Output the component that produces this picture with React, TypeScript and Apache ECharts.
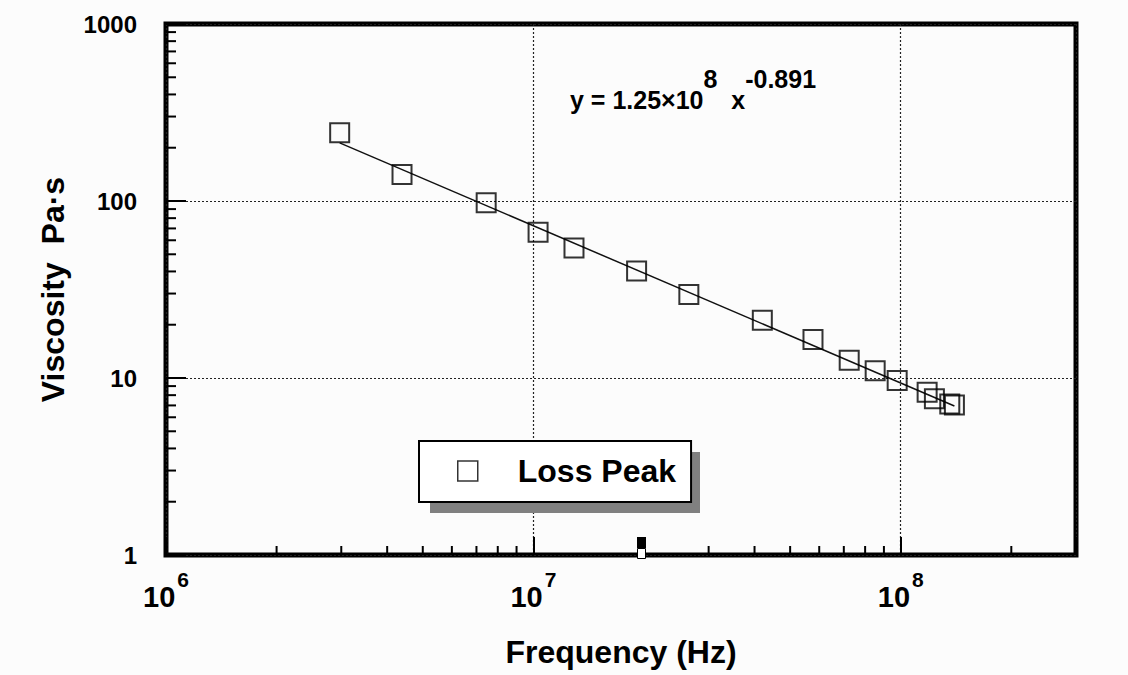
import React, { useEffect, useRef } from "react";
import * as echarts from "echarts";

// Measured data (Loss Peak): frequency (Hz) vs viscosity (Pa·s)
const freqHz = [2.97e6, 4.39e6, 7.44e6, 1.03e7, 1.29e7, 1.91e7, 2.65e7, 4.2e7, 5.77e7, 7.24e7, 8.52e7, 9.78e7, 1.18e8, 1.235e8, 1.36e8, 1.4e8];
const viscosity = [243, 141, 97.6, 66.6, 54.3, 40.2, 29.6, 21.2, 16.5, 12.6, 11.0, 9.69, 8.32, 7.64, 7.12, 7.03];

// Power-law fit line end points
const fitFreq = [2.97e6, 1.4e8];
const fitVisc = [213, 6.95];

// Minor tick positions
const minorTicksX = [2e6, 3e6, 4e6, 5e6, 6e6, 7e6, 8e6, 9e6, 2e7, 3e7, 4e7, 5e7, 6e7, 7e7, 8e7, 9e7, 2e8];
const minorTicksY = [2, 3, 4, 5, 6, 7, 8, 9, 20, 30, 40, 50, 60, 70, 80, 90, 200, 300, 400, 500, 600, 700, 800, 900];

const xMin = 1e6;
const xMax = 3e8;
const yMin = 1;
const yMax = 1000;

const seriesName = "Loss Peak";
const FONT = "'Liberation Sans', Arial, Helvetica, sans-serif";

export default function App() {
  const ref = useRef<HTMLDivElement>(null);

  useEffect(() => {
    if (!ref.current) return;
    const chart = echarts.init(ref.current, null, { renderer: "svg" });

    const isDecade = (v: number) => {
      const e = Math.log10(v);
      return Math.abs(e - Math.round(e)) < 1e-6;
    };

    const option: any = {
      animation: false,
      backgroundColor: "#fcfcfc",
      textStyle: { fontFamily: FONT },
      grid: {
        left: 166,
        top: 24,
        right: 52,
        bottom: 120,
        show: true,
        borderColor: "#000",
        borderWidth: 5,
        backgroundColor: "transparent",
      },
      xAxis: {
        type: "log",
        logBase: 10,
        min: xMin,
        max: xMax,
        name: "Frequency (Hz)",
        nameLocation: "middle",
        nameGap: 81,
        nameTextStyle: { fontSize: 32, fontWeight: "bold", color: "#000", fontFamily: FONT },
        axisLine: { show: false },
        axisTick: { show: true, inside: true, length: 18, lineStyle: { color: "#000", width: 2 } },
        splitLine: { show: true, lineStyle: { color: "#222", type: [2, 2], width: 1.2 } },
        axisLabel: {
          margin: 27,
          color: "#000",
          formatter: (v: number) => (isDecade(v) ? `{b|10}{s|${Math.round(Math.log10(v))}}` : ""),
          rich: {
            b: { fontSize: 29, fontWeight: "bold", color: "#000", lineHeight: 29, verticalAlign: "bottom", fontFamily: FONT },
            s: { fontSize: 21, fontWeight: "bold", color: "#000", lineHeight: 21, verticalAlign: "bottom", padding: [0, 0, 21, 2], fontFamily: FONT },
          },
        },
      },
      yAxis: {
        type: "log",
        logBase: 10,
        min: yMin,
        max: yMax,
        name: "Viscosity  Pa·s",
        nameLocation: "middle",
        nameGap: 97,
        nameTextStyle: { fontSize: 32, fontWeight: "bold", color: "#000", fontFamily: FONT },
        axisLine: { show: false },
        axisTick: { show: true, inside: true, length: 20, lineStyle: { color: "#000", width: 2 } },
        splitLine: { show: true, lineStyle: { color: "#222", type: [2, 2], width: 1.2 } },
        axisLabel: {
          margin: 29,
          color: "#000",
          fontSize: 24,
          fontWeight: "bold",
          fontFamily: FONT,
          formatter: (v: number) => (isDecade(v) ? String(Math.round(v)) : ""),
        },
      },
      legend: {
        left: 419,
        top: 441,
        orient: "horizontal",
        padding: [14, 15, 15, 38],
        backgroundColor: "#fff",
        borderColor: "#000",
        borderWidth: 2,
        itemWidth: 20,
        itemHeight: 20,
        selectedMode: false,
        z: 6,
        data: [
          {
            name: seriesName,
            icon: "rect",
            itemStyle: { color: "rgba(0,0,0,0)", borderColor: "#000", borderWidth: 1.5 },
          },
        ],
        formatter: (name: string) => `{t|${name}}`,
        textStyle: {
          rich: {
            t: { fontSize: 32, fontWeight: "bold", color: "#000", lineHeight: 32, width: 157, padding: [0, 0, 0, 35], fontFamily: FONT },
          },
        },
      },
      graphic: [
        {
          type: "rect",
          z: 5,
          shape: { x: 430, y: 452, width: 270, height: 61 },
          style: { fill: "#808080" },
        },
        {
          type: "text",
          left: 570,
          top: 66,
          z: 5,
          style: {
            text: "{b|y = 1.25×10}{s|8}{b|  x}{s|-0.891}",
            rich: {
              b: { fontSize: 25, fontWeight: "bold", fill: "#000", lineHeight: 25, verticalAlign: "bottom", fontFamily: FONT },
              s: { fontSize: 25, fontWeight: "bold", fill: "#000", lineHeight: 25, verticalAlign: "bottom", padding: [0, 0, 21, 0], fontFamily: FONT },
            },
          },
        },
        {
          type: "rect",
          z: 10,
          shape: { x: 637, y: 537, width: 9, height: 11 },
          style: { fill: "#000" },
        },
        {
          type: "rect",
          z: 10,
          shape: { x: 637.5, y: 548.5, width: 8, height: 10 },
          style: { fill: "#fff", stroke: "#000", lineWidth: 1 },
        },
      ],
      series: [
        {
          name: "fit",
          type: "line",
          data: fitFreq.map((f, i) => [f, fitVisc[i]]),
          showSymbol: false,
          symbol: "none",
          lineStyle: { color: "#111", width: 1.5 },
          z: 3,
          silent: true,
        },
        {
          name: seriesName,
          type: "scatter",
          data: freqHz.map((f, i) => [f, viscosity[i]]),
          symbol: "rect",
          symbolSize: 19,
          itemStyle: { color: "rgba(0,0,0,0)", borderColor: "#000", borderWidth: 2 },
          z: 4,
        },
        {
          name: "minorX",
          type: "custom",
          silent: true,
          z: 6,
          data: minorTicksX.map((v) => [v, yMin]),
          renderItem: (params: any, api: any) => {
            const p = api.coord([api.value(0), api.value(1)]);
            return {
              type: "line",
              shape: { x1: p[0], y1: p[1], x2: p[0], y2: p[1] - 9 },
              style: { stroke: "#000", lineWidth: 2 },
            };
          },
        },
        {
          name: "minorY",
          type: "custom",
          silent: true,
          z: 6,
          data: minorTicksY.map((v) => [xMin, v]),
          renderItem: (params: any, api: any) => {
            const p = api.coord([api.value(0), api.value(1)]);
            return {
              type: "line",
              shape: { x1: p[0], y1: p[1], x2: p[0] + 10, y2: p[1] },
              style: { stroke: "#000", lineWidth: 2 },
            };
          },
        },
      ],
    };

    chart.setOption(option);
    return () => chart.dispose();
  }, []);

  return (
    <div
      ref={ref}
      style={{ position: "fixed", left: 0, top: 0, width: 1128, height: 675, background: "#fcfcfc" }}
    />
  );
}
